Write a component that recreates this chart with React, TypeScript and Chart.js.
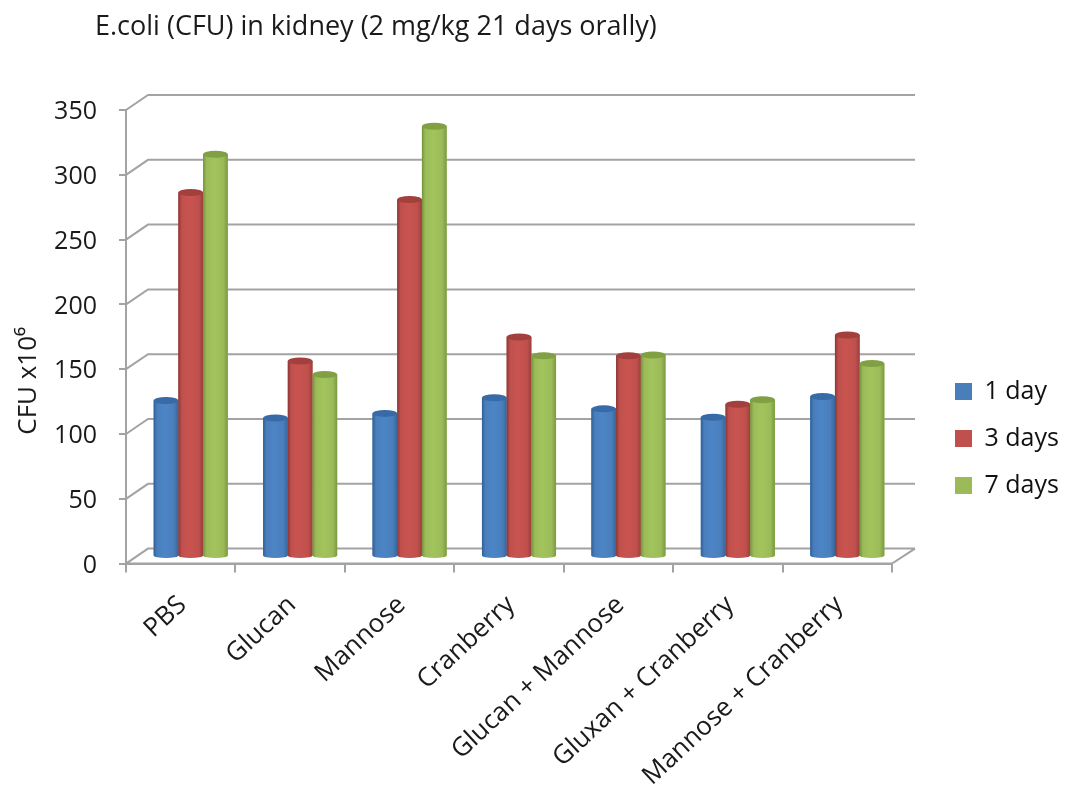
import React, { useEffect, useRef } from "react";
import { Chart, registerables } from "chart.js";

Chart.register(...registerables);

const categories = ["PBS", "Glucan", "Mannose", "Cranberry", "Glucan + Mannose", "Gluxan + Cranberry", "Mannose + Cranberry"];
const oneDay = [120.5, 107, 110.5, 122.5, 114, 107.5, 123.5];
const threeDays = [281, 151, 275.5, 169.5, 155, 117.5, 171];
const sevenDays = [310.5, 140.5, 332, 155, 155.5, 121, 149];
const seriesNames = ["1 day", "3 days", "7 days"];
const titleText = "E.coli (CFU) in kidney (2 mg/kg 21 days orally)";
const yTitle = "CFU x10⁶";

const FONT = '"Open Sans", "Noto Sans", sans-serif';
const GRID = "#a3a3a3";
const shades = [
  { base: "#4a7ebb", edgeL: "#2f6098", mid: "#4c85c6", edgeR: "#34679f", top: "#376aa6" },
  { base: "#c0504d", edgeL: "#8c3634", mid: "#c9544f", edgeR: "#98403d", top: "#a33f3c" },
  { base: "#9bbb59", edgeL: "#76933c", mid: "#a2c45c", edgeR: "#7b9a40", top: "#80a043" },
];

const AREA = { left: 126, right: 892, top: 110, bottom: 563.6 };
const wall = { dx: 22, dy: -15 };
const barShift = { dx: 10, dy: -7 };

const wallPlugin = {
  id: "wall3d",
  afterLayout(chart: any) {
    chart.titleBlock.left = 95;
    const lg = chart.legend;
    lg.left = 933;
    lg.right = 1073;
    lg.top = 357;
    lg.bottom = 530;
    const y = chart.scales.y;
    if (!y.__patched) {
      y.__patched = true;
      const orig = y.drawTitle;
      y.drawTitle = function () {
        chart.ctx.save();
        chart.ctx.translate(0, 44);
        orig.call(this);
        chart.ctx.restore();
      };
    }
  },
  beforeDatasetsDraw(chart: any) {
    const { ctx, scales } = chart;
    const y = scales.y;
    const x = scales.x;
    const l = x.left;
    const r = x.right;
    ctx.save();
    ctx.strokeStyle = GRID;
    ctx.lineWidth = 2;
    ctx.beginPath();
    y.ticks.forEach((t: any) => {
      const py = y.getPixelForValue(t.value);
      ctx.moveTo(l, py);
      ctx.lineTo(l + wall.dx, py + wall.dy);
      ctx.lineTo(r + wall.dx + 1, py + wall.dy);
    });
    const p0 = y.getPixelForValue(0);
    ctx.moveTo(l, p0);
    ctx.lineTo(r, p0);
    ctx.lineTo(r + wall.dx + 1, p0 + wall.dy);
    ctx.stroke();
    ctx.restore();
    ctx.save();
    ctx.translate(barShift.dx, barShift.dy);
  },
  afterDatasetsDraw(chart: any) {
    const { ctx } = chart;
    [0, 1, 2].forEach((ds) => {
      const c = shades[ds];
      chart.getDatasetMeta(ds).data.forEach((bar: any) => {
        const w = bar.width;
        const x0 = bar.x - w / 2;
        const x1 = bar.x + w / 2;
        const g = ctx.createLinearGradient(x0, 0, x1, 0);
        g.addColorStop(0, c.edgeL);
        g.addColorStop(0.14, c.base);
        g.addColorStop(0.45, c.mid);
        g.addColorStop(0.82, c.base);
        g.addColorStop(1, c.edgeR);
        ctx.fillStyle = g;
        ctx.beginPath();
        ctx.moveTo(x0, bar.y);
        ctx.lineTo(x0, bar.base);
        ctx.ellipse(bar.x, bar.base, w / 2, 2.5, 0, Math.PI, 0, true);
        ctx.lineTo(x1, bar.y);
        ctx.closePath();
        ctx.fill();
        ctx.fillStyle = c.top;
        ctx.beginPath();
        ctx.ellipse(bar.x, bar.y, w / 2, 3.5, 0, 0, Math.PI * 2);
        ctx.fill();
      });
    });
    ctx.restore();
  },
};

export default function App() {
  const ref = useRef<HTMLCanvasElement>(null);
  useEffect(() => {
    const chart = new Chart(ref.current as HTMLCanvasElement, {
      type: "bar",
      data: {
        labels: categories,
        datasets: [oneDay, threeDays, sevenDays].map((d, i) => ({
          label: seriesNames[i],
          data: d,
          backgroundColor: shades[i].base,
          borderWidth: 0,
          categoryPercentage: 0.677,
          barPercentage: 1,
        })),
      },
      plugins: [wallPlugin],
      options: {
        animation: false,
        responsive: false,
        layout: { autoPadding: false, padding: { left: 0, top: 0, bottom: 0, right: 1073 - AREA.right } },
        plugins: {
          title: {
            display: true,
            text: titleText,
            align: "start",
            color: "#1a1a1a",
            font: { family: FONT, size: 27, weight: "normal" },
            padding: { top: 11, bottom: 110 - 11 - 32.4 },
          },
          legend: {
            position: "chartArea",
            align: "start",
            labels: {
              boxWidth: 17,
              boxHeight: 17,
              padding: 22,
              color: "#111111",
              font: { family: FONT, size: 25 },
            },
          },
          tooltip: { enabled: false },
        },
        scales: {
          x: {
            afterFit: (s: any) => {
              s.height = 796 - AREA.bottom;
            },
            grid: { drawOnChartArea: false, color: GRID, tickLength: 9, lineWidth: 2, offset: true },
            border: { color: GRID, width: 2 },
            ticks: {
              autoSkip: false,
              minRotation: 43,
              maxRotation: 43,
              labelOffset: 2,
              padding: 17,
              color: "#1a1a1a",
              font: { family: FONT, size: 26 },
            },
          },
          y: {
            min: 0,
            max: 350,
            afterFit: (s: any) => {
              s.width = AREA.left;
            },
            grid: { drawOnChartArea: false, color: GRID, tickLength: 7, lineWidth: 2 },
            border: { color: GRID, width: 2 },
            ticks: {
              stepSize: 50,
              padding: 22,
              labelOffset: 2,
              color: "#1a1a1a",
              font: { family: FONT, size: 25 },
            },
            title: {
              display: true,
              text: yTitle,
              color: "#1a1a1a",
              font: { family: FONT, size: 26 },
              padding: { top: 13, bottom: 0 },
            },
          },
        },
      },
    } as any);
    return () => chart.destroy();
  }, []);
  return (
    <canvas
      ref={ref}
      width={1073}
      height={796}
      style={{ position: "absolute", left: 0, top: 0, display: "block" }}
    />
  );
}
